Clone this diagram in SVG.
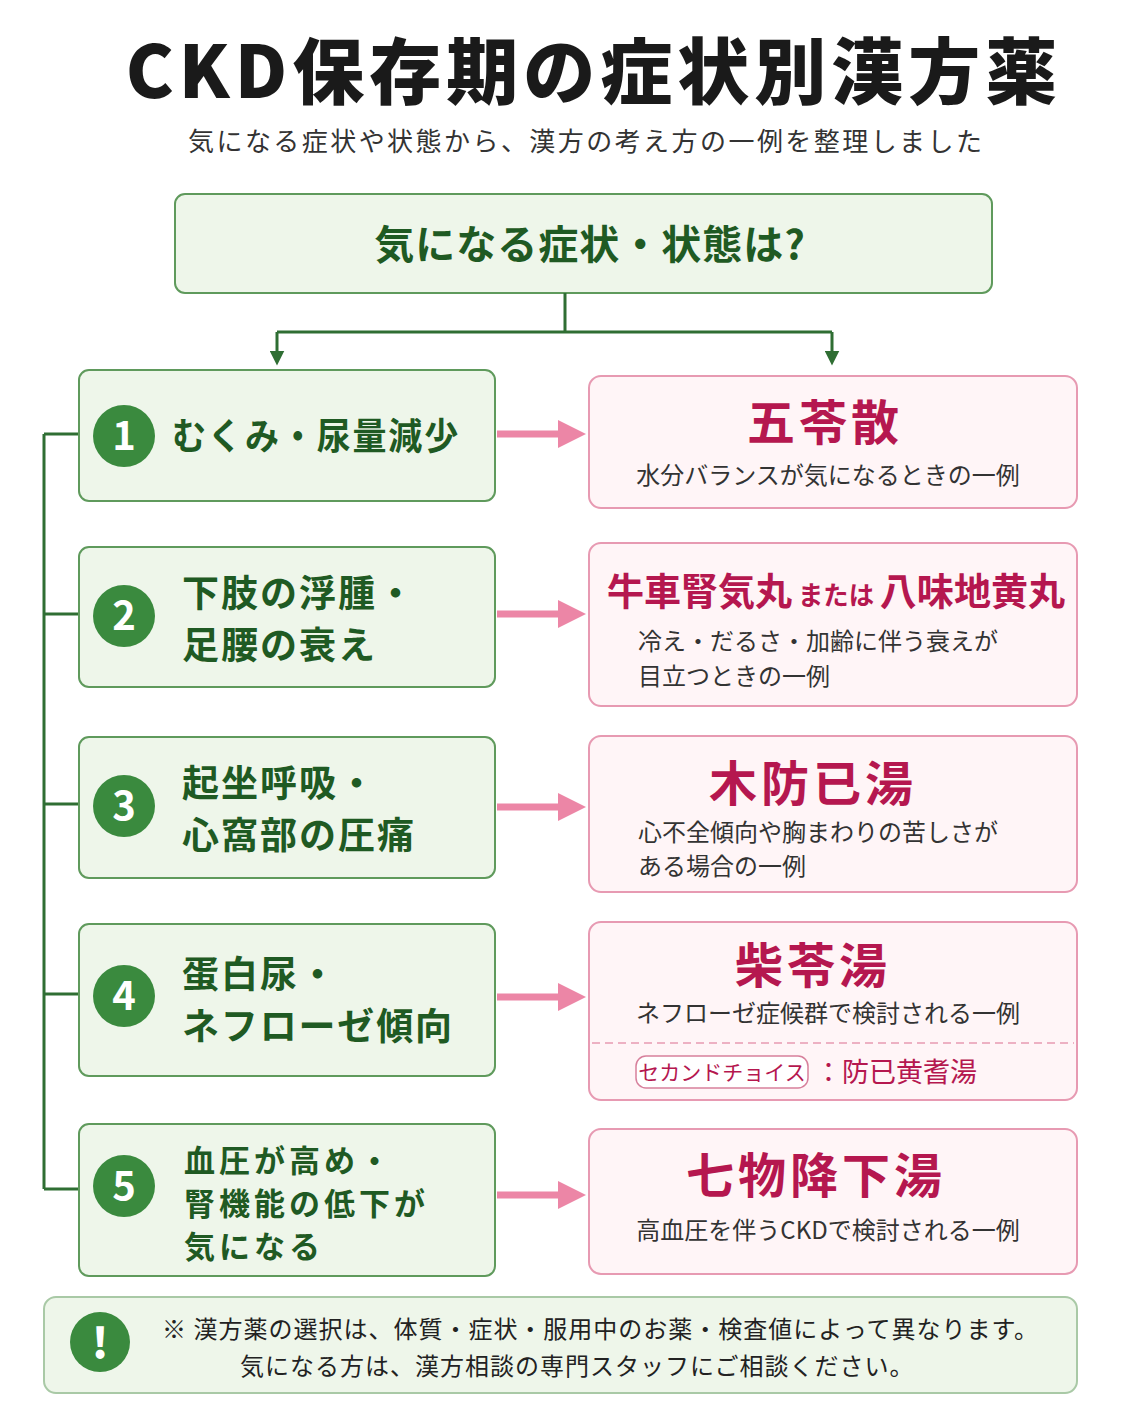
<svg xmlns="http://www.w3.org/2000/svg" width="1122" height="1402" viewBox="0 0 1122 1402">
<style>
text{font-family:"Noto Sans CJK JP","Noto Sans",sans-serif}
.lb{fill:#eef6ea;stroke:#5f9a5c;stroke-width:2}
.rb{fill:#fff5f7;stroke:#e79ab2;stroke-width:2}
.num{fill:#3a8a3e}
.nt{fill:#fff;font-size:40px;font-weight:700;text-anchor:middle}
.lt{fill:#1f5a23;font-size:37px;font-weight:700;letter-spacing:2px}
.lt5{fill:#1f5a23;font-size:31px;font-weight:700;letter-spacing:4px}
.med{fill:#b5174f;font-size:48px;font-weight:700;text-anchor:middle;letter-spacing:4px}
.desc{fill:#333;font-size:24px}
.cdesc{fill:#333;font-size:24px;text-anchor:middle}
.arr{stroke:#ec86a6;stroke-width:7;fill:none}
.gl{stroke:#2f6e33;stroke-width:3;fill:none}
</style>
<defs>
<marker id="pa" viewBox="0 0 10 10" refX="5" refY="5" markerWidth="4" markerHeight="4" orient="auto"><path d="M0,0L10,5L0,10z" fill="#ec86a6"/></marker>
<marker id="ga" viewBox="0 0 10 10" refX="5" refY="5" markerWidth="5" markerHeight="5" orient="auto"><path d="M0,0L10,5L0,10z" fill="#2f6e33"/></marker>
</defs>
<rect width="1122" height="1402" fill="#fff"/>
<g id="title">
<text x="594" y="98" text-anchor="middle" font-size="72" font-weight="900" fill="#1a1a1a" letter-spacing="5">CKD保存期の症状別漢方薬</text>
<text x="585" y="151" text-anchor="middle" font-size="26" fill="#333" textLength="794">気になる症状や状態から、漢方の考え方の一例を整理しました</text>
</g>
<g id="top">
<rect x="175" y="194" width="817" height="99" rx="10" class="lb" stroke="#3d7d3d"/>
<text x="590" y="259" text-anchor="middle" font-size="40" font-weight="700" fill="#1f5a23" letter-spacing="1">気になる症状・状態は?</text>
</g>
<g id="connectors">
<path class="gl" d="M565,293V332M277,332H832M832,332V358" marker-end="url(#ga)"/>
<path class="gl" d="M277,332V358" marker-end="url(#ga)"/>
<path class="gl" d="M44,434V1189M44,434H79M44,614H79M44,804H79M44,994H79M44,1189H79"/>
<path class="arr" d="M497,434H572" marker-end="url(#pa)"/>
<path class="arr" d="M497,614H572" marker-end="url(#pa)"/>
<path class="arr" d="M497,807H572" marker-end="url(#pa)"/>
<path class="arr" d="M497,997H572" marker-end="url(#pa)"/>
<path class="arr" d="M497,1195H572" marker-end="url(#pa)"/>
</g>
<g id="s1"><rect x="79" y="370" width="416" height="131" rx="10" class="lb"/><circle cx="124" cy="436" r="31" class="num"/><text x="124" y="450" class="nt">1</text><text x="172" y="450" class="lt" textLength="288" lengthAdjust="spacingAndGlyphs">むくみ・尿量減少</text></g>
<g id="s2"><rect x="79" y="547" width="416" height="140" rx="10" class="lb"/><circle cx="124" cy="616" r="31" class="num"/><text x="124" y="630" class="nt">2</text><text x="182" y="607" class="lt">下肢の浮腫・</text><text x="182" y="659" class="lt">足腰の衰え</text></g>
<g id="s3"><rect x="79" y="737" width="416" height="141" rx="10" class="lb"/><circle cx="124" cy="806" r="31" class="num"/><text x="124" y="820" class="nt">3</text><text x="182" y="797" class="lt">起坐呼吸・</text><text x="182" y="849" class="lt">心窩部の圧痛</text></g>
<g id="s4"><rect x="79" y="924" width="416" height="152" rx="10" class="lb"/><circle cx="124" cy="996" r="31" class="num"/><text x="124" y="1010" class="nt">4</text><text x="182" y="988" class="lt">蛋白尿・</text><text x="182" y="1040" class="lt" textLength="272">ネフローゼ傾向</text></g>
<g id="s5"><rect x="79" y="1124" width="416" height="152" rx="10" class="lb"/><circle cx="124" cy="1186" r="31" class="num"/><text x="124" y="1200" class="nt">5</text><text x="184" y="1172" class="lt5">血圧が高め・</text><text x="184" y="1215" class="lt5">腎機能の低下が</text><text x="184" y="1258" class="lt5">気になる</text></g>
<g id="m1"><rect x="589" y="376" width="488" height="132" rx="12" class="rb"/><text x="825" y="440" class="med">五苓散</text><text x="828" y="484" class="cdesc">水分バランスが気になるときの一例</text></g>
<g id="m2"><rect x="589" y="543" width="488" height="163" rx="12" class="rb"/><text x="607" y="605" fill="#b5174f" font-size="38" font-weight="700" textLength="458" lengthAdjust="spacingAndGlyphs">牛車腎気丸<tspan font-size="26" dx="6">または</tspan><tspan dx="6">八味地黄丸</tspan></text><text x="638" y="650" class="desc">冷え・だるさ・加齢に伴う衰えが</text><text x="638" y="685" class="desc">目立つときの一例</text></g>
<g id="m3"><rect x="589" y="736" width="488" height="156" rx="12" class="rb"/><text x="813" y="801" class="med">木防已湯</text><text x="638" y="841" class="desc">心不全傾向や胸まわりの苦しさが</text><text x="638" y="875" class="desc">ある場合の一例</text></g>
<g id="m4"><rect x="589" y="922" width="488" height="178" rx="12" class="rb"/><text x="813" y="983" class="med">柴苓湯</text><text x="828" y="1022" class="cdesc">ネフローゼ症候群で検討される一例</text><path d="M592,1043H1074" stroke="#e79ab2" stroke-width="1.5" stroke-dasharray="8,5"/><rect x="636" y="1056" width="172" height="32" rx="10" fill="#fff" stroke="#d7809c" stroke-width="1.5"/><text x="722" y="1080" text-anchor="middle" font-size="21" fill="#b5174f">セカンドチョイス</text><text x="815" y="1082" font-size="27" fill="#b5174f">：防已黄耆湯</text></g>
<g id="m5"><rect x="589" y="1129" width="488" height="145" rx="12" class="rb"/><text x="816" y="1193" class="med">七物降下湯</text><text x="828" y="1239" class="cdesc">高血圧を伴うCKDで検討される一例</text></g>
<g id="note"><rect x="44" y="1297" width="1033" height="96" rx="12" fill="#eef6ea" stroke="#a9c9a6" stroke-width="2"/><circle cx="100" cy="1342" r="30" fill="#3a8a3e"/><text x="100" y="1358" text-anchor="middle" font-size="42" font-weight="900" fill="#fff">!</text><text x="162" y="1338" font-size="24" fill="#222" letter-spacing="1">※ 漢方薬の選択は、体質・症状・服用中のお薬・検査値によって異なります。</text><text x="240" y="1375" font-size="24" fill="#222" letter-spacing="1">気になる方は、漢方相談の専門スタッフにご相談ください。</text></g>
</svg>
